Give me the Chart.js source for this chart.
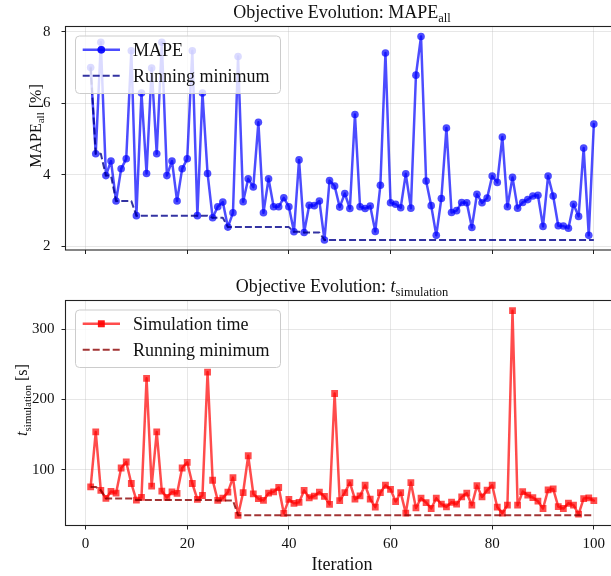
<!DOCTYPE html>
<html lang="en">
<head>
    <meta charset="UTF-8">
    <title>Objective Evolution</title>
    <script src="https://cdn.jsdelivr.net/npm/chart.js"></script>
    <style>
        html, body {
            margin: 0;
            padding: 0;
            background: #ffffff;
            overflow: hidden;
            width: 611px;
            height: 576px;
        }
        canvas {
            position: absolute;
            left: 0;
        }
        #mape-chart { top: 0; }
        #time-chart { top: 270px; }
    </style>
</head>
<body>
    <canvas id="mape-chart" width="640" height="270"></canvas>
    <canvas id="time-chart" width="640" height="306"></canvas>

    <script>
        // Optimisation history, one value per iteration
        const iterations = [
            1, 2, 3, 4, 5, 6, 7, 8, 9, 10, 11, 12, 13, 14, 15, 16, 17, 18, 19, 20,
            21, 22, 23, 24, 25, 26, 27, 28, 29, 30, 31, 32, 33, 34, 35, 36, 37, 38, 39, 40,
            41, 42, 43, 44, 45, 46, 47, 48, 49, 50, 51, 52, 53, 54, 55, 56, 57, 58, 59, 60,
            61, 62, 63, 64, 65, 66, 67, 68, 69, 70, 71, 72, 73, 74, 75, 76, 77, 78, 79, 80,
            81, 82, 83, 84, 85, 86, 87, 88, 89, 90, 91, 92, 93, 94, 95, 96, 97, 98, 99, 100
        ];

        // MAPE_all [%]
        const mapeValues = [
            7.00, 4.59, 7.71, 3.98, 4.39, 3.27, 4.17, 4.45, 7.47, 2.86,
            6.29, 4.04, 6.99, 4.59, 7.71, 3.98, 4.39, 3.27, 4.17, 4.45,
            7.47, 2.86, 6.29, 4.04, 2.80, 3.11, 3.24, 2.54, 2.94, 7.31,
            3.25, 3.89, 3.66, 5.47, 2.94, 3.89, 3.11, 3.11, 3.36, 3.11,
            2.41, 4.42, 2.39, 3.15, 3.14, 3.27, 2.18, 3.84, 3.69, 3.10,
            3.48, 3.06, 5.69, 3.11, 3.06, 3.13, 2.42, 3.71, 7.41, 3.22,
            3.18, 3.08, 4.03, 3.07, 6.79, 7.87, 3.83, 3.14, 2.31, 3.34,
            5.31, 2.95, 3.00, 3.23, 3.22, 2.53, 3.46, 3.22, 3.35, 3.97,
            3.79, 5.06, 3.11, 3.93, 3.07, 3.23, 3.31, 3.41, 3.43, 2.56,
            3.97, 3.41, 2.58, 2.57, 2.51, 3.18, 2.84, 4.75, 2.31, 5.42
        ];

        // t_simulation [s]
        const simTimes = [
            76, 154, 71, 59.6, 69.5, 67, 102.8, 111.3, 80.8, 57.3,
            61, 230, 77, 154, 70, 61, 69, 66.7, 102.8, 110.8,
            80.8, 58.2, 63.8, 239, 85.4, 56.8, 60, 68.5, 89.2, 35.7,
            68, 120.2, 66.2, 59.2, 56.8, 67, 69, 75.1, 38.5, 58.2,
            52.6, 54, 71, 60.6, 63, 68.5, 62.4, 51.2, 208.5, 56.6,
            67.9, 82.1, 58.5, 63.2, 78.3, 58.5, 47.2, 67.9, 78.3, 72.6,
            55.2, 67.9, 38.7, 82.1, 46.2, 59.9, 53.8, 45.3, 59.9, 51.4,
            47.6, 54.2, 51.4, 61.8, 67, 50, 77.8, 61.8, 71.2, 78.3,
            47.2, 38.7, 50, 326, 50, 69.3, 64.2, 60.8, 55.7, 45.3,
            71.7, 73.1, 48.1, 45.3, 52.8, 50, 37.3, 59.4, 60.4, 56.6
        ];

        const xTicks = [0, 20, 40, 60, 80, 100];
        const mapeTicks = [2, 4, 6, 8];
        const timeTicks = [100, 200, 300];

        const SERIF = '"Liberation Serif", "DejaVu Serif", serif';
        const baseFont = '18px ' + SERIF;
        const subFont = '12.5px ' + SERIF;
        const italicFont = 'italic 18px ' + SERIF;
        // axis labels are set a little smaller than the titles
        const labelFont = '16px ' + SERIF;
        const labelSub = '11px ' + SERIF;
        const labelItalic = 'italic 16px ' + SERIF;

        function toPoints(values) {
            return values.map((v, i) => ({ x: iterations[i], y: v }));
        }

        function runningMin(values) {
            let best = Infinity;
            return values.map(v => (best = Math.min(best, v)));
        }

        // Draw a line of text made of several font runs, centred on (x, y)
        function drawRich(ctx, parts, x, y) {
            let total = 0;
            parts.forEach(p => { ctx.font = p.font; p.w = ctx.measureText(p.text).width; total += p.w; });
            let cx = x - total / 2;
            ctx.textAlign = 'left';
            ctx.textBaseline = 'alphabetic';
            parts.forEach(p => {
                ctx.font = p.font;
                ctx.fillText(p.text, cx, y + (p.dy || 0));
                cx += p.w;
            });
        }

        // Frame, legend box and the text pieces with subscripts
        const decorPlugin = {
            id: 'decor',
            afterDatasetsDraw(chart, args, opts) {
                const ctx = chart.ctx;
                const area = chart.chartArea;
                ctx.save();

                // full box around the plot
                ctx.strokeStyle = '#222';
                ctx.lineWidth = 1.1;
                ctx.strokeRect(area.left, area.top, area.right - area.left, area.bottom - area.top);

                // legend
                const top = area.top;
                const bx = 75, by = top + 9, bw = 205, bh = 57.5;
                ctx.beginPath();
                ctx.roundRect(bx + 0.5, by + 0.5, bw, bh, 4);
                ctx.fillStyle = 'rgba(255,255,255,0.8)';
                ctx.fill();
                ctx.strokeStyle = '#cccccc';
                ctx.lineWidth = 1;
                ctx.stroke();

                const rows = [top + 23.3, top + 49.3];
                opts.entries.forEach((entry, k) => {
                    const ds = chart.data.datasets[entry];
                    const ly = rows[k];
                    ctx.beginPath();
                    ctx.setLineDash(ds.borderDash || []);
                    ctx.strokeStyle = ds.borderColor;
                    ctx.lineWidth = ds.borderWidth;
                    ctx.moveTo(82.7, ly);
                    ctx.lineTo(120, ly);
                    ctx.stroke();
                    ctx.setLineDash([]);
                    if (ds.pointRadius > 0) {
                        ctx.fillStyle = ds.pointBackgroundColor;
                        Chart.helpers.drawPoint(ctx, {
                            pointStyle: ds.pointStyle, radius: ds.pointRadius, borderWidth: 0, rotation: 0
                        }, 101.3, ly);
                        ctx.fill();
                    }
                    ctx.fillStyle = '#111';
                    ctx.font = baseFont;
                    ctx.textAlign = 'left';
                    ctx.textBaseline = 'alphabetic';
                    ctx.fillText(ds.label, 133, ly + 6);
                });

                // title
                ctx.fillStyle = '#111';
                drawRich(ctx, opts.title, 342, opts.titleY);

                // y-axis label, rotated
                ctx.save();
                ctx.translate(opts.yLabelX, opts.yLabelY);
                ctx.rotate(-Math.PI / 2);
                drawRich(ctx, opts.yLabel, 0, 0);
                ctx.restore();

                // x-axis label
                if (opts.xLabel) {
                    drawRich(ctx, [{ text: opts.xLabel, font: baseFont }], 342, opts.xLabelY);
                }
                ctx.restore();
            }
        };

        function axisOptions(min, max, ticks, showLabels, padding) {
            return {
                type: 'linear',
                min: min,
                max: max,
                afterBuildTicks: s => { s.ticks = ticks.map(v => ({ value: v })); },
                grid: {
                    color: 'rgba(176,176,176,0.3)',
                    lineWidth: 1,
                    tickLength: 4,
                    tickColor: '#222',
                    drawTicks: true
                },
                border: { display: false },
                ticks: {
                    display: showLabels,
                    color: '#111',
                    padding: padding,
                    font: { family: SERIF, size: 15 }
                }
            };
        }

        function makeChart(id, seriesLabel, values, style, yMin, yMax, yTicks, showX, xHeight, yPad, decor) {
            const xScale = axisOptions(-3.95, 104.95, xTicks, showX, 6);
            xScale.afterFit = s => { s.height = xHeight; };
            const yScale = axisOptions(yMin, yMax, yTicks, true, yPad);
            yScale.afterFit = s => { s.width = 65.5; };

            return new Chart(document.getElementById(id), {
                type: 'line',
                data: {
                    datasets: [
                        {
                            label: seriesLabel,
                            data: toPoints(values),
                            borderColor: style.color,
                            borderWidth: 2.5,
                            borderJoinStyle: 'round',
                            borderCapStyle: 'round',
                            pointStyle: style.marker,
                            pointRadius: style.radius,
                            pointBackgroundColor: style.color,
                            pointBorderColor: style.color,
                            pointBorderWidth: 0,
                            tension: 0,
                            order: 1
                        },
                        {
                            label: 'Running minimum',
                            data: toPoints(runningMin(values)),
                            borderColor: style.minColor,
                            borderWidth: 2,
                            borderDash: [7, 3],
                            borderJoinStyle: 'round',
                            pointRadius: 0,
                            tension: 0,
                            order: 0
                        }
                    ]
                },
                options: {
                    responsive: false,
                    animation: false,
                    devicePixelRatio: 1,
                    layout: { padding: { top: decor.areaTop, right: 21, left: 0, bottom: 0 } },
                    plugins: {
                        legend: { display: false },
                        tooltip: { enabled: false },
                        decor: decor
                    },
                    scales: { x: xScale, y: yScale }
                },
                plugins: [decorPlugin]
            });
        }

        makeChart('mape-chart', 'MAPE', mapeValues,
            { color: 'rgba(0,0,255,0.7)', minColor: 'rgba(0,0,139,0.8)', marker: 'circle', radius: 3.8 },
            1.9, 8.15, mapeTicks, false, 18.5, 11,
            {
                areaTop: 26.5,
                entries: [0, 1],
                title: [
                    { text: 'Objective Evolution: ', font: baseFont },
                    { text: 'MAPE', font: baseFont },
                    { text: 'all', font: subFont, dy: 4 }
                ],
                titleY: 18.3,
                yLabel: [
                    { text: 'MAPE', font: labelFont },
                    { text: 'all', font: labelSub, dy: 3.5 },
                    { text: ' [%]', font: labelFont }
                ],
                yLabelX: 40.5,
                yLabelY: 126
            });

        makeChart('time-chart', 'Simulation time', simTimes,
            { color: 'rgba(255,0,0,0.7)', minColor: 'rgba(139,0,0,0.8)', marker: 'rect', radius: 4.8 },
            21.2, 340.5, timeTicks, true, 50.5, 7,
            {
                areaTop: 30.5,
                entries: [0, 1],
                title: [
                    { text: 'Objective Evolution: ', font: baseFont },
                    { text: 't', font: italicFont },
                    { text: 'simulation', font: subFont, dy: 4 }
                ],
                titleY: 22,
                yLabel: [
                    { text: 't', font: labelItalic },
                    { text: 'simulation', font: labelSub, dy: 3.5 },
                    { text: ' [s]', font: labelFont }
                ],
                yLabelX: 27,
                yLabelY: 130,
                xLabel: 'Iteration',
                xLabelY: 300
            });
    </script>
</body>
</html>
